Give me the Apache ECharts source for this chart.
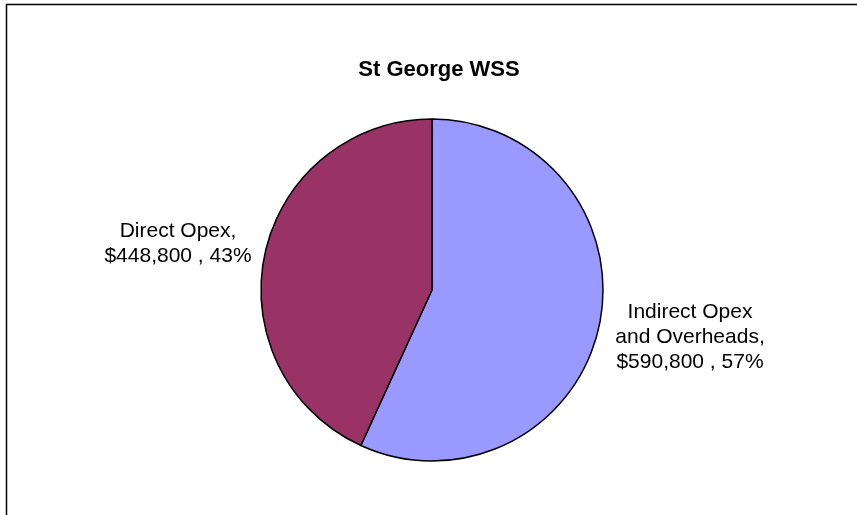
<!DOCTYPE html>
<html>
<head>
<meta charset="utf-8">
<script src="https://cdn.jsdelivr.net/npm/echarts@6/dist/echarts.min.js"></script>
<style>
  html, body { margin: 0; padding: 0; background: #fff; }
  #chart { width: 857px; height: 515px; }
</style>
</head>
<body>
<div id="chart"></div>
<script>
// Cost breakdown for the scheme
const categories = ['Indirect Opex\nand Overheads', 'Direct Opex'];
const values = [590800, 448800];
const colors = ['#9999FF', '#993366'];
const titleText = 'St George WSS';

const total = values.reduce((a, b) => a + b, 0);
const fmtMoney = v => '$' + v.toLocaleString('en-US');

// where each slice label block is centred
const labelSpots = [
  { x: 690, y: 337 },
  { x: 178, y: 244 }
];

const chart = echarts.init(document.getElementById('chart'), null, { renderer: 'canvas' });

chart.setOption({
  animation: false,
  backgroundColor: '#fff',
  title: {
    text: titleText,
    left: 434,
    top: 65,
    textAlign: 'center',
    textVerticalAlign: 'middle',
    textStyle: { fontFamily: 'Liberation Sans, Arial', fontSize: 22, fontWeight: 'bold', color: '#000' }
  },
  graphic: [{
    type: 'rect',
    shape: { x: 6.5, y: 4.5, width: 900, height: 600 },
    style: { fill: 'none', stroke: '#000', lineWidth: 1.5 },
    silent: true
  }],
  series: [{
    type: 'pie',
    center: [432, 290],
    radius: 171,
    startAngle: 90,
    clockwise: true,
    data: categories.map((name, i) => ({
      name, value: values[i], itemStyle: { color: colors[i] }
    })),
    itemStyle: { borderColor: '#000', borderWidth: 1.5 },
    label: {
      show: true,
      position: 'outside',
      fontFamily: 'Liberation Sans, Arial',
      fontSize: 21,
      lineHeight: 25,
      color: '#000',
      align: 'center',
      formatter: p => p.name + ',\n' + fmtMoney(p.value) + ' , ' + Math.round(p.value / total * 100) + '%'
    },
    labelLine: { show: false },
    labelLayout: p => ({
      x: labelSpots[p.dataIndex].x,
      y: labelSpots[p.dataIndex].y,
      align: 'center',
      verticalAlign: 'middle'
    })
  }]
});
</script>
</body>
</html>
